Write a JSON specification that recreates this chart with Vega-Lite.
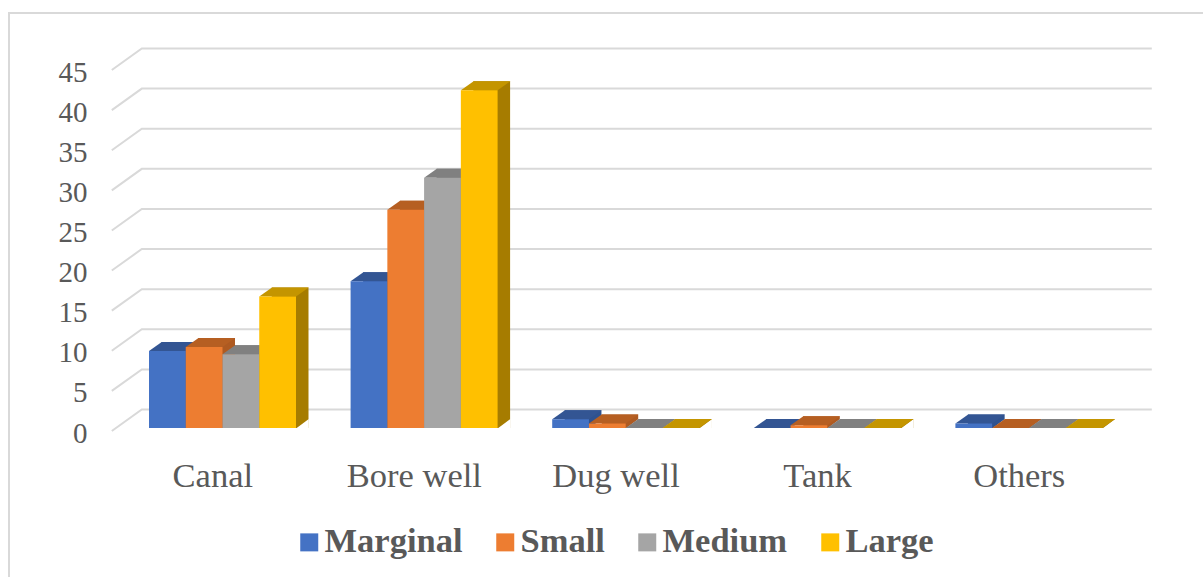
{
  "$schema": "https://vega.github.io/schema/vega-lite/v6.json",
  "width": 1196,
  "height": 600,
  "autosize": "none",
  "padding": {"left": 9, "top": 13, "right": 0, "bottom": 0},
  "background": "white",
  "view": {"stroke": "#D9D9D9", "strokeWidth": 2, "fill": "white"},
  "config": {
    "font": "Liberation Serif",
    "axis": {"labelFont": "Liberation Serif", "labelColor": "#595959"}
  },
  "datasets": {
    "bars": [
      {"source": "Canal", "holding": "Marginal", "share": 9.6},
      {"source": "Canal", "holding": "Small", "share": 10.1},
      {"source": "Canal", "holding": "Medium", "share": 9.2},
      {"source": "Canal", "holding": "Large", "share": 16.4},
      {"source": "Bore well", "holding": "Marginal", "share": 18.3},
      {"source": "Bore well", "holding": "Small", "share": 27.2},
      {"source": "Bore well", "holding": "Medium", "share": 31.2},
      {"source": "Bore well", "holding": "Large", "share": 42.1},
      {"source": "Dug well", "holding": "Marginal", "share": 1.1},
      {"source": "Dug well", "holding": "Small", "share": 0.55},
      {"source": "Dug well", "holding": "Medium", "share": 0},
      {"source": "Dug well", "holding": "Large", "share": 0},
      {"source": "Tank", "holding": "Marginal", "share": 0},
      {"source": "Tank", "holding": "Small", "share": 0.35},
      {"source": "Tank", "holding": "Medium", "share": 0},
      {"source": "Tank", "holding": "Large", "share": 0},
      {"source": "Others", "holding": "Marginal", "share": 0.55},
      {"source": "Others", "holding": "Small", "share": 0},
      {"source": "Others", "holding": "Medium", "share": 0},
      {"source": "Others", "holding": "Large", "share": 0}
    ],
    "ticks": [
      {"tick": 0}, {"tick": 5}, {"tick": 10}, {"tick": 15}, {"tick": 20},
      {"tick": 25}, {"tick": 30}, {"tick": 35}, {"tick": 40}, {"tick": 45}
    ]
  },
  "layer": [
    {
      "description": "Back wall gridlines with their slanted floor returns; also carries both axes",
      "data": {"name": "ticks"},
      "mark": {
        "type": "point",
        "shape": "M-101,0 L-71,-21.5 L939,-21.5",
        "size": 4,
        "filled": false,
        "opacity": 1,
        "stroke": "#D9D9D9",
        "strokeWidth": 2
      },
      "encoding": {
        "x": {
          "datum": "Canal",
          "type": "nominal",
          "scale": {
            "domain": ["Canal", "Bore well", "Dug well", "Tank", "Others"],
            "range": [103, 1111],
            "paddingInner": 0,
            "paddingOuter": 0
          },
          "axis": {
            "title": null,
            "orient": "bottom",
            "offset": -137,
            "domain": false,
            "ticks": false,
            "grid": false,
            "labelAngle": 0,
            "labelFontSize": 34.5,
            "labelPadding": 0,
            "labelBaseline": "middle",
            "labelOverlap": false
          }
        },
        "y": {
          "field": "tick",
          "type": "quantitative",
          "scale": {"domain": [0, 45], "range": [418, 57], "nice": false, "zero": false},
          "axis": {
            "title": null,
            "orient": "left",
            "offset": -78,
            "values": [0, 5, 10, 15, 20, 25, 30, 35, 40, 45],
            "domain": false,
            "ticks": false,
            "grid": false,
            "labelFontSize": 29,
            "labelPadding": 0,
            "labelOffset": 2,
            "labelOverlap": false
          }
        }
      }
    },
    {
      "description": "Dark side faces: a copy of each bar pushed back along the depth direction",
      "data": {"name": "bars"},
      "mark": {"type": "bar", "clip": false},
      "encoding": {
        "x": {"field": "source", "type": "nominal", "sort": null},
        "xOffset": {
          "field": "holding",
          "type": "nominal",
          "sort": ["Marginal", "Small", "Medium", "Large"],
          "scale": {
            "domain": ["Marginal", "Small", "Medium", "Large"],
            "range": [49.5, 196.5],
            "paddingInner": 0,
            "paddingOuter": 0
          }
        },
        "y": {
          "field": "share",
          "type": "quantitative",
          "scale": {"domain": [0, 45], "range": [406, 45], "nice": false, "zero": false},
          "axis": null
        },
        "y2": {"datum": -1.12},
        "color": {
          "field": "holding",
          "type": "nominal",
          "legend": null,
          "scale": {
            "domain": ["Marginal", "Small", "Medium", "Large"],
            "range": ["#2F528F", "#AE5A21", "#787878", "#A67C00"]
          }
        }
      }
    },
    {
      "description": "White wedge trimming the foot of each side face into a parallelogram",
      "data": {"name": "bars"},
      "mark": {
        "type": "point",
        "shape": "M36.75,0.5 L49.5,0.5 L49.5,-9 Z",
        "size": 4,
        "filled": true,
        "opacity": 1,
        "fill": "white",
        "strokeWidth": 0
      },
      "encoding": {
        "x": {"field": "source", "type": "nominal", "sort": null},
        "xOffset": {
          "field": "holding",
          "type": "nominal",
          "sort": ["Marginal", "Small", "Medium", "Large"],
          "scale": {
            "domain": ["Marginal", "Small", "Medium", "Large"],
            "range": [37, 147.25],
            "paddingInner": 0,
            "paddingOuter": 0
          }
        },
        "y": {
          "datum": 0,
          "type": "quantitative",
          "scale": {"domain": [0, 45], "range": [415, 54], "nice": false, "zero": false},
          "axis": null
        }
      }
    },
    {
      "description": "Top faces of the bars",
      "data": {"name": "bars"},
      "mark": {
        "type": "point",
        "shape": "M0,0 L36.75,0 L49.5,-9 L12.75,-9 Z",
        "size": 4,
        "filled": true,
        "opacity": 1,
        "strokeWidth": 0
      },
      "encoding": {
        "x": {"field": "source", "type": "nominal", "sort": null},
        "xOffset": {
          "field": "holding",
          "type": "nominal",
          "sort": ["Marginal", "Small", "Medium", "Large"],
          "scale": {
            "domain": ["Marginal", "Small", "Medium", "Large"],
            "range": [37, 147.25],
            "paddingInner": 0,
            "paddingOuter": 0
          }
        },
        "y": {
          "field": "share",
          "type": "quantitative",
          "scale": {"domain": [0, 45], "range": [415, 54], "nice": false, "zero": false},
          "axis": null
        },
        "color": {
          "field": "holding",
          "type": "nominal",
          "legend": null,
          "scale": {
            "domain": ["Marginal", "Small", "Medium", "Large"],
            "range": ["#335593", "#B65F22", "#808080", "#C49500"]
          }
        }
      }
    },
    {
      "description": "Front faces of the bars, which also supply the legend",
      "data": {"name": "bars"},
      "mark": {"type": "bar"},
      "encoding": {
        "x": {"field": "source", "type": "nominal", "sort": null},
        "xOffset": {
          "field": "holding",
          "type": "nominal",
          "sort": ["Marginal", "Small", "Medium", "Large"],
          "scale": {
            "domain": ["Marginal", "Small", "Medium", "Large"],
            "range": [37, 184],
            "paddingInner": 0,
            "paddingOuter": 0
          }
        },
        "y": {
          "field": "share",
          "type": "quantitative",
          "scale": {"domain": [0, 45], "range": [415, 54], "nice": false, "zero": false},
          "axis": null
        },
        "color": {
          "field": "holding",
          "type": "nominal",
          "scale": {
            "domain": ["Marginal", "Small", "Medium", "Large"],
            "range": ["#4472C4", "#ED7D31", "#A5A5A5", "#FFC000"]
          },
          "legend": {
            "title": null,
            "orient": "none",
            "direction": "horizontal",
            "legendX": 283,
            "legendY": 512,
            "symbolType": "square",
            "symbolSize": 324,
            "symbolStrokeWidth": 0,
            "symbolOpacity": 1,
            "labelFont": "Liberation Serif",
            "labelFontWeight": "bold",
            "labelFontSize": 34.5,
            "labelColor": "#595959",
            "labelOffset": -2,
            "columnPadding": 25,
            "labelLimit": 300
          }
        }
      }
    }
  ],
  "resolve": {
    "scale": {"y": "independent", "xOffset": "independent", "color": "independent"},
    "axis": {"y": "independent"},
    "legend": {"color": "independent"}
  }
}
